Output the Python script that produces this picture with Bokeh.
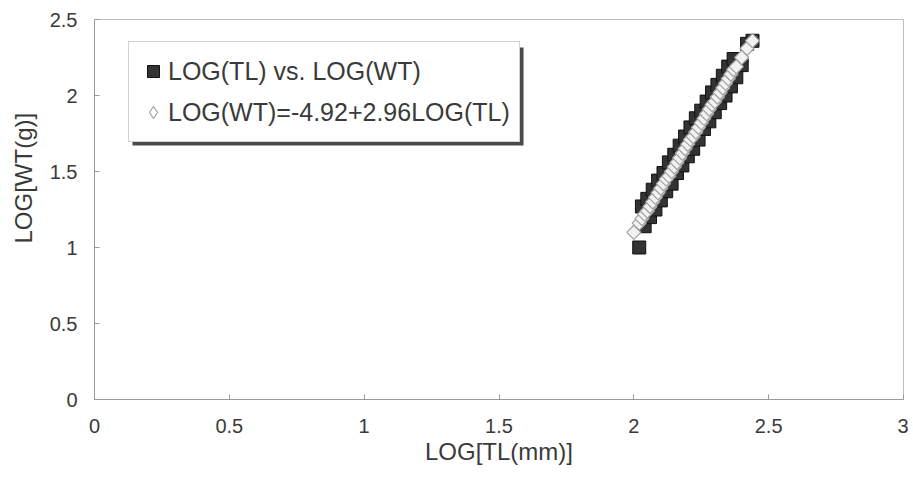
import math
from bokeh.plotting import figure
from bokeh.models import Range1d, Legend, LegendItem, BoxAnnotation, FixedTicker, Title
from bokeh.embed import file_html
from bokeh.resources import INLINE

# Data
log_tl = [2.02, 2.03, 2.04, 2.05, 2.06, 2.07, 2.08, 2.09, 2.10, 2.11,
          2.12, 2.13, 2.14, 2.15, 2.16, 2.17, 2.18, 2.19, 2.20, 2.21,
          2.22, 2.23, 2.24, 2.25, 2.26, 2.27, 2.28, 2.29, 2.30, 2.31,
          2.32, 2.33, 2.34, 2.35, 2.36, 2.37, 2.38, 2.40, 2.42, 2.44]
log_wt = [1.00, 1.27, 1.14, 1.32, 1.20, 1.38, 1.25, 1.44, 1.31, 1.49,
          1.37, 1.56, 1.42, 1.61, 1.49, 1.67, 1.54, 1.73, 1.60, 1.79,
          1.65, 1.85, 1.71, 1.90, 1.78, 1.96, 1.83, 2.02, 1.89, 2.07,
          1.95, 2.13, 2.00, 2.19, 2.06, 2.24, 2.12, 2.20, 2.34, 2.36]
fit_x = [2.00, 2.02, 2.03, 2.04, 2.05, 2.06, 2.07, 2.08, 2.09, 2.10,
         2.11, 2.12, 2.13, 2.14, 2.15, 2.16, 2.17, 2.18, 2.19, 2.20,
         2.21, 2.22, 2.23, 2.24, 2.25, 2.26, 2.27, 2.28, 2.29, 2.30,
         2.31, 2.32, 2.33, 2.34, 2.35, 2.36, 2.37, 2.38, 2.40, 2.42, 2.44]
fit_y = [1.10, 1.16, 1.19, 1.22, 1.24, 1.27, 1.30, 1.33, 1.36, 1.39,
         1.42, 1.45, 1.47, 1.50, 1.53, 1.56, 1.59, 1.62, 1.65, 1.68,
         1.71, 1.73, 1.76, 1.79, 1.82, 1.85, 1.88, 1.91, 1.94, 1.96,
         1.99, 2.02, 2.05, 2.08, 2.11, 2.14, 2.17, 2.19, 2.25, 2.31, 2.36]
x_ticks = [0, 0.5, 1, 1.5, 2, 2.5, 3]
y_ticks = [0, 0.5, 1, 1.5, 2, 2.5]
label_data = "LOG(TL) vs. LOG(WT)"
label_fit = "LOG(WT)=-4.92+2.96LOG(TL)"
x_title = "LOG[TL(mm)]"
y_title = "LOG[WT(g)]"

FONT = "Liberation Sans"
TXT = "#3a3a3a"

p = figure(width=908, height=472, output_backend="svg", toolbar_location=None,
           x_range=Range1d(0, 3), y_range=Range1d(0, 2.5),
           min_border_left=94, min_border_right=5, min_border_top=19,
           min_border_bottom=73)
p.background_fill_color = "white"
p.border_fill_color = "white"
p.outline_line_color = "#bdbdbd"
p.outline_line_width = 1
p.grid.visible = False

for ax in (p.xaxis[0], p.yaxis[0]):
    ax.major_label_text_font = FONT
    ax.major_label_text_font_size = "20px"
    ax.major_label_text_color = TXT
    ax.axis_label_text_font = FONT
    ax.axis_label_text_font_size = "24px"
    ax.axis_label_text_font_style = "normal"
    ax.axis_label_text_color = TXT
    ax.axis_line_color = "#9a9a9a"
    ax.major_tick_line_color = "#9a9a9a"
    ax.major_tick_in = 5
    ax.major_tick_out = 0
    ax.minor_tick_line_color = None

p.xaxis[0].ticker = FixedTicker(ticks=x_ticks)
p.yaxis[0].ticker = FixedTicker(ticks=y_ticks)
p.xaxis[0].axis_label = x_title
p.xaxis[0].major_label_standoff = 19
p.yaxis[0].major_label_standoff = 17
p.xaxis[0].axis_label_standoff = 2

# y-axis title, sitting above the frame centre as in the reference
ytitle = Title(text=y_title, align="left", offset=156, vertical_align="top",
               text_font=FONT, text_font_size="24px", text_font_style="normal",
               text_color=TXT, standoff=16)
p.add_layout(ytitle, "left")

# fitted-series legend icon (diamond) sits under the plotted fitted markers
r_fit_icon = p.scatter(fit_x, fit_y, marker="diamond", size=12,
                       fill_color="#ffffff", line_color="#a0a0a0", line_width=1.2)
r_data = p.scatter(log_tl, log_wt, marker="square", size=13,
                   fill_color="#333333", line_color="#111111", line_width=1)
r_fit = p.scatter(fit_x, fit_y, marker="square", angle=math.pi / 4, size=10,
                  fill_color="#f2f2f2", line_color="#a0a0a0", line_width=1.2)

# legend shadow
shadow = BoxAnnotation(left=0.141, right=1.591, top=2.316, bottom=1.671,
                       fill_color="#4a4a4a", fill_alpha=1.0, line_color=None)
p.add_layout(shadow)

legend = Legend(items=[LegendItem(label=label_data, renderers=[r_data]),
                       LegendItem(label=label_fit, renderers=[r_fit_icon])],
                location=(34, 257), orientation="vertical")
legend.label_text_font = FONT
legend.label_text_font_size = "25px"
legend.label_text_color = TXT
legend.border_line_color = "#a8a8a8"
legend.background_fill_color = "white"
legend.background_fill_alpha = 1.0
legend.padding = 9
legend.spacing = 1
legend.glyph_width = 30
legend.glyph_height = 40
legend.label_height = 40
legend.label_standoff = -3
legend.margin = 0
p.add_layout(legend)

open("out.html", "w").write(file_html(p, INLINE))
